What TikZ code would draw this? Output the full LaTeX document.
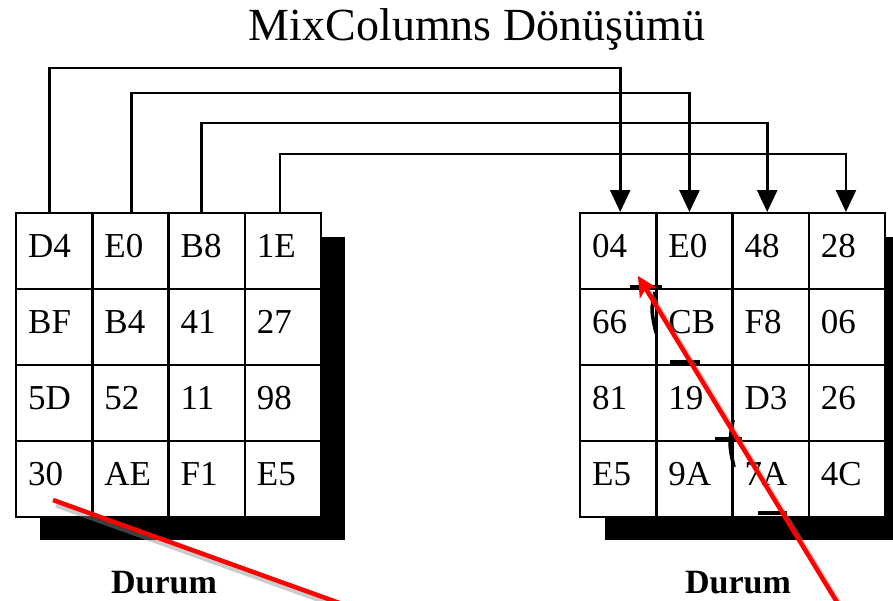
\documentclass[tikz,border=0pt]{standalone}
\usepackage{fontspec}
\setmainfont{Liberation Serif}
\usetikzlibrary{arrows.meta,calc}
\begin{document}
\begin{tikzpicture}[x=1pt,y=-1pt,
  cell/.style={draw=black,fill=white,line width=2.4pt,minimum height=76pt,text width=52pt,
    inner xsep=12pt,inner ysep=0pt,align=left,text depth=10pt,
    font=\fontsize{35}{38}\selectfont,anchor=north west},
  shadowbox/.style={fill=black},
  conn/.style={draw=black,line width=2.6pt},
  connarrow/.style={conn,-{Triangle[width=20pt,length=22pt]}},
  redline/.style={draw=red,line width=4.5pt},
  redshadow/.style={draw=black!45,line width=5pt,opacity=0.45},
  titletext/.style={font=\fontsize{46}{50}\selectfont,inner sep=0pt},
  lbl/.style={font=\fontsize{34}{38}\selectfont\bfseries,inner sep=0pt},
  gridmark/.style={draw=black,line width=3.6pt}
]
\useasboundingbox (0,0) rectangle (893,600);
\clip (0,0) rectangle (893,600);
\fill[white] (0,0) rectangle (893,600);

% title
\node[titletext,anchor=base] (title) at (477,40) {MixColumns Dönüşümü};

% shadows
\fill[shadowbox] (40,237) rectangle (345,540);
\fill[shadowbox] (605,237) rectangle (910,540);

% left matrix
\foreach \v [count=\k from 0] in {D4,E0,B8,1E,BF,B4,41,27,5D,52,11,98,30,AE,F1,E5}{
  \pgfmathtruncatemacro\row{int(\k/4)+1}
  \pgfmathtruncatemacro\col{mod(\k,4)+1}
  \node[cell] (L\row\col) at ({15+76.25*(\col-1)},{212+76*(\row-1)}) {\v};
}
% right matrix
\foreach \v [count=\k from 0] in {04,E0,48,28,66,CB,F8,06,81,19,D3,26,E5,9A,7A,4C}{
  \pgfmathtruncatemacro\row{int(\k/4)+1}
  \pgfmathtruncatemacro\col{mod(\k,4)+1}
  \node[cell] (R\row\col) at ({579+76.25*(\col-1)},{212+76*(\row-1)}) {\v};
}

% connectors
\draw[connarrow] ([xshift=-5pt]L11.north) -- ++(0,-144) -| ([xshift=2pt]R11.north);
\draw[connarrow] ([xshift=1pt]L12.north) -- ++(0,-119) -| ([xshift=-5pt]R12.north);
\draw[connarrow] ([xshift=-5.5pt]L13.north) -- ++(0,-89) -| ([xshift=-3.5pt]R13.north);
\draw[connarrow] ([xshift=-3pt]L14.north) -- ++(0,-58) -| ([xshift=-1pt]R14.north);

% labels
\node[lbl,anchor=base] (ldurum) at (164,593) {Durum};
\node[lbl,anchor=base] (rdurum) at (738,593) {Durum};

% grid marks near red arrow
\draw[gridmark] (630,287) -- (662,287);
\draw[gridmark] (655,292) .. controls (651,310) .. (656,333);
\draw[gridmark] (670,362) -- (700,362);
\draw[gridmark] (715,439) -- (742,439);
\draw[gridmark] (733,420) .. controls (729,445) .. (734,467);
\draw[gridmark] (758,513) -- (787,513);

% red lines
\coordinate (ra) at (53,500);
\coordinate (rb) at (345,605);
\coordinate (rc) at (843,612);
\coordinate (rd) at (638,276);
\draw[redshadow] ([shift={(3,5)}]ra) -- ([shift={(3,5)}]rb);
\draw[redline] (ra) -- (rb);
\draw[redshadow] ([shift={(4,4)}]rc) -- ([shift={(4,4)}]rd);
\draw[redline,-{Stealth[length=20pt,width=20pt,inset=5pt]}] (rc) -- (rd);
\end{tikzpicture}
\end{document}
